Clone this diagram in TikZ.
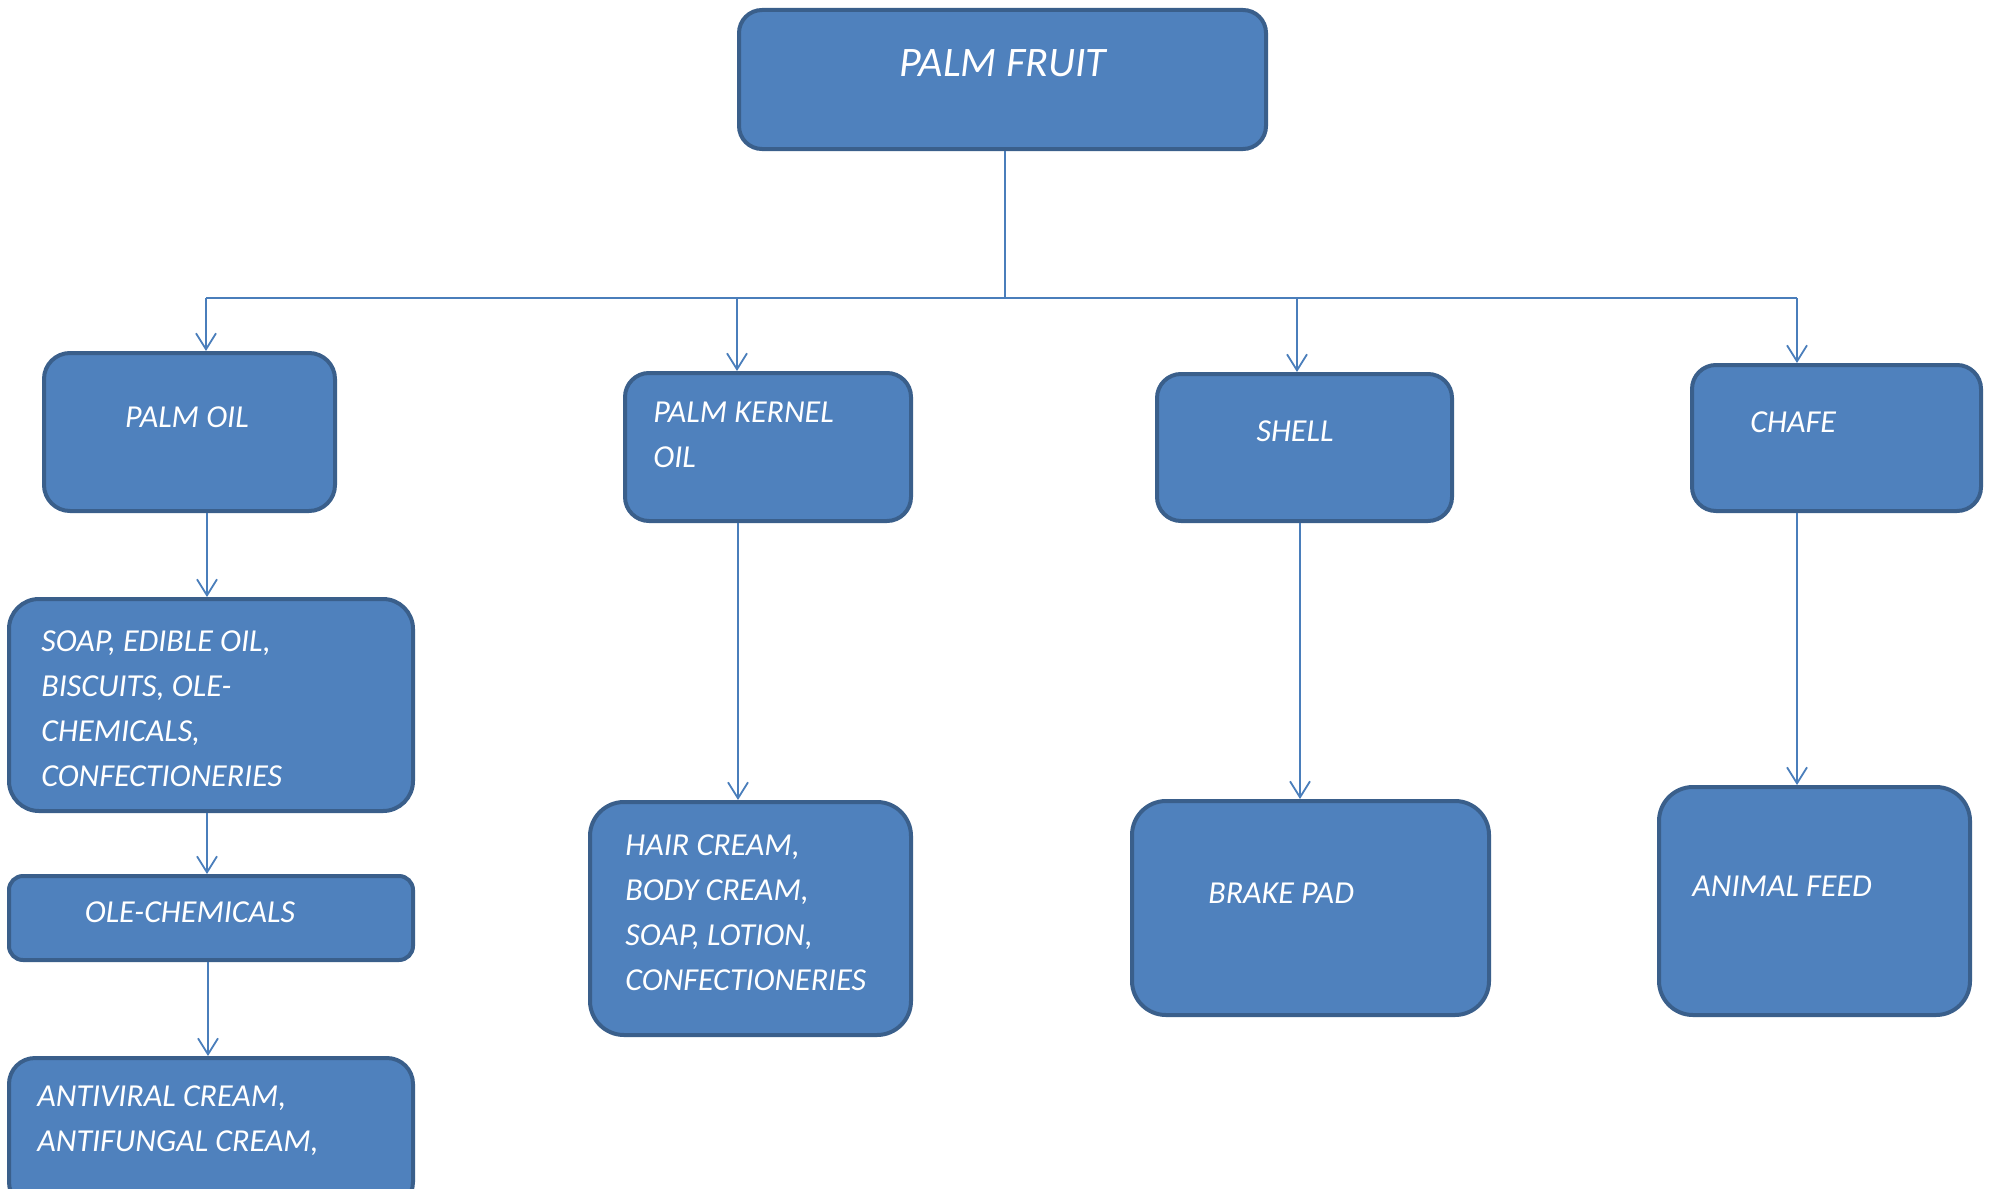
\documentclass[tikz,border=0pt]{standalone}
\usepackage{fontspec}
\setmainfont{Carlito}
\usetikzlibrary{arrows.meta}
\definecolor{boxfill}{HTML}{4F81BD}
\definecolor{boxline}{HTML}{3A5F8B}
\definecolor{connline}{HTML}{4A7EBB}
\tikzset{
  box/.style={draw=boxline, fill=boxfill, line width=2pt, inner sep=0pt},
  conn/.style={draw=connline, line width=0.9pt},
  connarrow/.style={conn, -{Straight Barb[length=8pt,width=10pt,line width=0.9pt]}},
  lbl/.style={text=white, inner sep=0pt, font=\fontsize{16}{22.5}\selectfont\itshape, align=left},
  biglbl/.style={text=white, inner sep=0pt, font=\fontsize{21}{26}\selectfont\itshape},
}
\begin{document}
\begin{tikzpicture}[x=0.5pt,y=-0.5pt]
\useasboundingbox (0,0) rectangle (1990,1188);
\begin{scope}
\clip (0,0) rectangle (1990,1188);
% boxes
\node[box, rounded corners=11.5pt, minimum width=263.5pt, minimum height=69.5pt] (fruit) at (1002.5,79.5) {};
\node[box, rounded corners=13pt, minimum width=145.5pt, minimum height=79pt] (palmoil) at (189.5,432) {};
\node[box, rounded corners=12pt, minimum width=143pt, minimum height=74pt] (pko) at (768,447) {};
\node[box, rounded corners=12pt, minimum width=147.5pt, minimum height=73.5pt] (shell) at (1304.5,447.5) {};
\node[box, rounded corners=12pt, minimum width=144.5pt, minimum height=73pt] (chafe) at (1836.5,438) {};
\node[box, rounded corners=15pt, minimum width=202pt, minimum height=106pt] (soap) at (211,705) {};
\node[box, rounded corners=7pt, minimum width=202pt, minimum height=42pt] (ole) at (211,918) {};
\node[box, rounded corners=13pt, minimum width=202pt, minimum height=75pt] (antiviral) at (211,1133) {};
\node[box, rounded corners=17pt, minimum width=160.5pt, minimum height=116.5pt] (hair) at (750.5,918.5) {};
\node[box, rounded corners=17pt, minimum width=178.5pt, minimum height=107pt] (brake) at (1310.5,908) {};
\node[box, rounded corners=17pt, minimum width=155.5pt, minimum height=114pt] (animal) at (1814.5,901) {};
% texts (base anchor = baseline of the last line)
\node[biglbl, anchor=base] (tfruit) at (1003,76) {PALM FRUIT};
\node[lbl, anchor=base] (tpalmoil) at (187,427) {PALM OIL};
\node[lbl, anchor=base west] (tpko) at (653,467) {PALM KERNEL\\OIL};
\node[lbl, anchor=base] (tshell) at (1295,441) {SHELL};
\node[lbl, anchor=base west] (tchafe) at (1750,432) {CHAFE};
\node[lbl, anchor=base west] (tsoap) at (41,786) {SOAP, EDIBLE OIL,\\BISCUITS, OLE-\\CHEMICALS,\\CONFECTIONERIES};
\node[lbl, anchor=base] (tole) at (190,922) {OLE-CHEMICALS};
\node[lbl, anchor=base west] (tanti) at (37,1151) {ANTIVIRAL CREAM,\\ANTIFUNGAL CREAM,};
\node[lbl, anchor=base west] (thair) at (625,990) {HAIR CREAM,\\BODY CREAM,\\SOAP, LOTION,\\CONFECTIONERIES};
\node[lbl, anchor=base west] (tbrake) at (1208,903) {BRAKE PAD};
\node[lbl, anchor=base west] (tanimal) at (1692,896) {ANIMAL FEED};
% connector coordinates
\coordinate (hub) at (1005,298);
\coordinate (b1) at (206,298);
\coordinate (b2) at (737,298);
\coordinate (b3) at (1297,298);
\coordinate (b4) at (1797,298);
\coordinate (xa) at (207,0);
\coordinate (xb) at (208,0);
\coordinate (xc) at (738,0);
\coordinate (xd) at (1300,0);
\coordinate (xe) at (1797,0);
% connectors
\draw[conn] (fruit.south -| hub) -- (hub);
\draw[conn] (b1) -- (b4);
\draw[connarrow] (b1) -- (palmoil.north -| b1);
\draw[connarrow] (b2) -- (pko.north -| b2);
\draw[connarrow] (b3) -- (shell.north -| b3);
\draw[connarrow] (b4) -- (chafe.north -| b4);
\draw[connarrow] (palmoil.south -| xa) -- (soap.north -| xa);
\draw[connarrow] (soap.south -| xa) -- (ole.north -| xa);
\draw[connarrow] (ole.south -| xb) -- (antiviral.north -| xb);
\draw[connarrow] (pko.south -| xc) -- (hair.north -| xc);
\draw[connarrow] (shell.south -| xd) -- (brake.north -| xd);
\draw[connarrow] (chafe.south -| xe) -- (animal.north -| xe);
\end{scope}
\end{tikzpicture}
\end{document}
